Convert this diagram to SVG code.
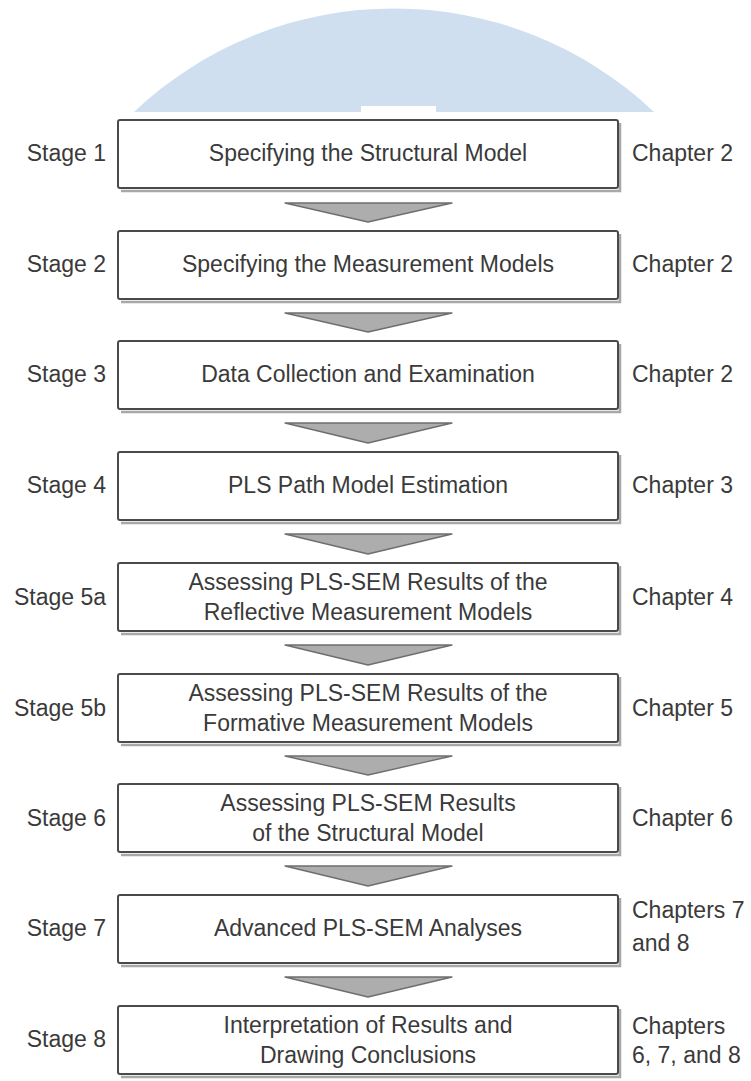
<svg xmlns="http://www.w3.org/2000/svg" width="751" height="1081" viewBox="0 0 751 1081">
<defs>
<style>
text{font-family:"Liberation Sans",Arial,sans-serif;font-size:23px;fill:#3a3a3a}
.c{text-anchor:middle}
.s{text-anchor:end}
.box{fill:#fff;stroke:#4a4a4a;stroke-width:2}
.sh{fill:none;stroke:#a8a8a8;stroke-width:2.5}
.arr{fill:#adadad;stroke:#6e6e6e;stroke-width:1.3;stroke-linejoin:round}
</style>
</defs>
<rect width="751" height="1081" fill="#fff"/>
<g id="watermark">
<path d="M134,112 A378,378 0 0 1 654,112 Z" fill="#cfdff0"/>
<rect x="361" y="106" width="75" height="7" fill="#fff"/>
</g>
<g id="connectors">
<polygon class="arr" points="285,203 452,203 368,222"/>
<polygon class="arr" points="285,313 452,313 368,332"/>
<polygon class="arr" points="285,423 452,423 368,443"/>
<polygon class="arr" points="285,534 452,534 368,554"/>
<polygon class="arr" points="285,645 452,645 368,665"/>
<polygon class="arr" points="285,756 452,756 368,775"/>
<polygon class="arr" points="285,866 452,866 368,886"/>
<polygon class="arr" points="285,977 452,977 368,997"/>
</g>
<g id="stage1">
<path class="sh" d="M121,191 H620 V123"/>
<rect class="box" x="118" y="120" width="500" height="68" rx="2"/>
<text class="s" x="106" y="161">Stage 1</text>
<text class="c" x="368" y="161">Specifying the Structural Model</text>
<text x="632" y="161">Chapter 2</text>
</g>
<g id="stage2">
<path class="sh" d="M121,302 H620 V234"/>
<rect class="box" x="118" y="231" width="500" height="68" rx="2"/>
<text class="s" x="106" y="272">Stage 2</text>
<text class="c" x="368" y="272">Specifying the Measurement Models</text>
<text x="632" y="272">Chapter 2</text>
</g>
<g id="stage3">
<path class="sh" d="M121,412 H620 V344"/>
<rect class="box" x="118" y="341" width="500" height="68" rx="2"/>
<text class="s" x="106" y="382">Stage 3</text>
<text class="c" x="368" y="382">Data Collection and Examination</text>
<text x="632" y="382">Chapter 2</text>
</g>
<g id="stage4">
<path class="sh" d="M121,523 H620 V455"/>
<rect class="box" x="118" y="452" width="500" height="68" rx="2"/>
<text class="s" x="106" y="493">Stage 4</text>
<text class="c" x="368" y="493">PLS Path Model Estimation</text>
<text x="632" y="493">Chapter 3</text>
</g>
<g id="stage5a">
<path class="sh" d="M121,634 H620 V566"/>
<rect class="box" x="118" y="563" width="500" height="68" rx="2"/>
<text class="s" x="106" y="605">Stage 5a</text>
<text class="c" x="368" y="590">Assessing PLS-SEM Results of the</text>
<text class="c" x="368" y="620">Reflective Measurement Models</text>
<text x="632" y="605">Chapter 4</text>
</g>
<g id="stage5b">
<path class="sh" d="M121,745 H620 V677"/>
<rect class="box" x="118" y="674" width="500" height="68" rx="2"/>
<text class="s" x="106" y="716">Stage 5b</text>
<text class="c" x="368" y="701">Assessing PLS-SEM Results of the</text>
<text class="c" x="368" y="731">Formative Measurement Models</text>
<text x="632" y="716">Chapter 5</text>
</g>
<g id="stage6">
<path class="sh" d="M121,855 H620 V787"/>
<rect class="box" x="118" y="784" width="500" height="68" rx="2"/>
<text class="s" x="106" y="826">Stage 6</text>
<text class="c" x="368" y="811">Assessing PLS-SEM Results</text>
<text class="c" x="368" y="841">of the Structural Model</text>
<text x="632" y="826">Chapter 6</text>
</g>
<g id="stage7">
<path class="sh" d="M121,966 H620 V898"/>
<rect class="box" x="118" y="895" width="500" height="68" rx="2"/>
<text class="s" x="106" y="936">Stage 7</text>
<text class="c" x="368" y="936">Advanced PLS-SEM Analyses</text>
<text x="632" y="918">Chapters 7</text>
<text x="632" y="951">and 8</text>
</g>
<g id="stage8">
<path class="sh" d="M121,1077 H620 V1009"/>
<rect class="box" x="118" y="1006" width="500" height="68" rx="2"/>
<text class="s" x="106" y="1047">Stage 8</text>
<text class="c" x="368" y="1033">Interpretation of Results and</text>
<text class="c" x="368" y="1063">Drawing Conclusions</text>
<text x="632" y="1034">Chapters</text>
<text x="632" y="1063">6, 7, and 8</text>
</g>
</svg>
